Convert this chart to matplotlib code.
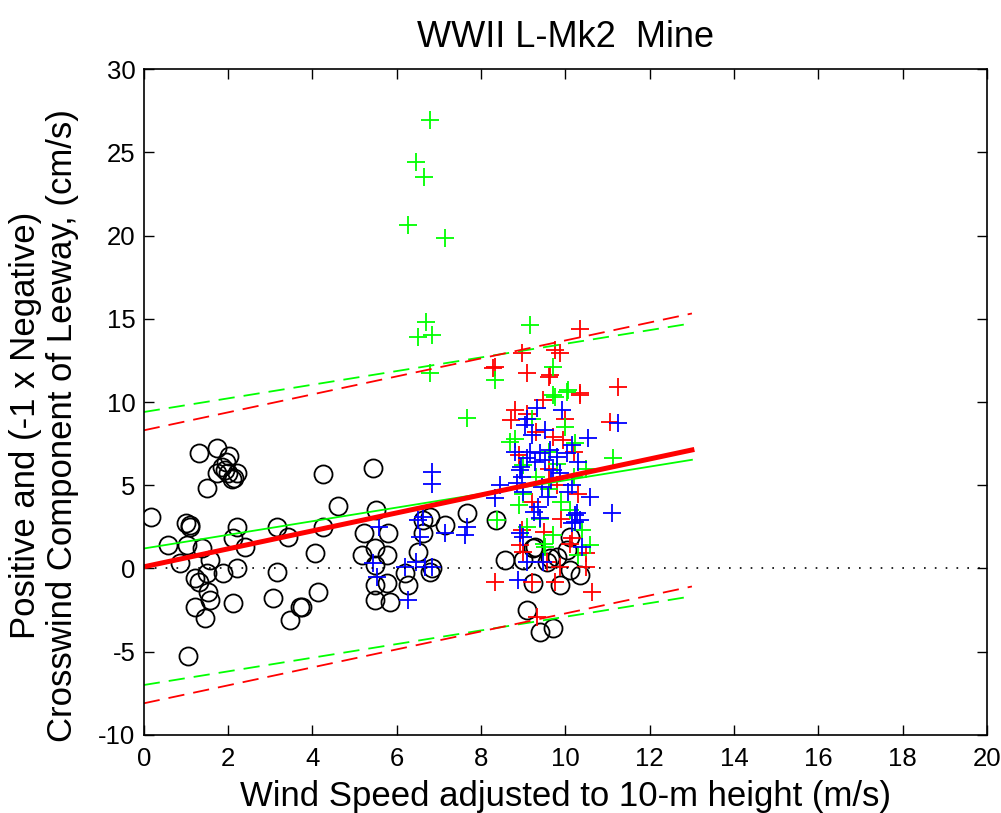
import numpy as np
import matplotlib.pyplot as plt

# wind speed (m/s) and crosswind leeway (cm/s) for each run
circ_x = [1.32, 1.73, 2.03, 1.85, 2.01, 2.20, 1.73, 2.09, 1.49, 1.93,
          0.17, 1.00, 1.10, 0.58, 1.02, 1.38, 1.57, 0.86, 2.21, 2.12,
          2.40, 1.89, 2.21, 1.49, 1.22, 1.30, 1.53, 1.57, 1.22, 1.45,
          2.12, 1.04, 3.15, 3.43, 3.15, 3.07, 3.47, 3.71, 4.24, 5.44,
          4.61, 4.24, 4.05, 4.14, 3.75, 5.51, 5.22, 5.80, 5.17, 5.49,
          5.76, 5.49, 5.49, 5.76, 5.49, 5.84, 6.20, 6.27, 6.51, 6.63,
          6.79, 6.63, 6.83, 6.79, 7.66, 8.35, 8.57, 9.00, 9.28, 9.24,
          9.08, 9.40, 9.71, 9.63, 7.14, 9.56, 9.87, 10.11, 10.34, 9.24,
          10.11, 10.03, 9.79, 1.95, 2.15, 1.10]
circ_y = [6.92, 7.22, 6.76, 6.11, 5.72, 5.76, 5.72, 5.36, 4.82, 5.92,
          3.07, 2.75, 2.51, 1.41, 1.41, 1.21, 0.51, 0.31, 2.51, 1.81,
          1.31, -0.25, 0.01, -0.29, -0.59, -0.79, -1.39, -1.89, -2.29, -2.99,
          -2.09, -5.26, 2.51, 1.91, -0.19, -1.79, -3.09, -2.29, 5.66, 6.02,
          3.75, 2.51, 0.95, -1.39, -2.29, 3.51, 2.11, 2.11, 0.81, 1.21,
          0.81, 0.21, -0.99, -0.89, -1.89, -1.99, -0.29, -0.99, 1.01, 2.11,
          3.07, 2.91, 0.01, -0.19, 3.31, 2.91, 0.51, 0.51, 1.31, -0.89,
          -2.49, -3.79, -3.59, 0.61, 2.61, 0.41, -0.99, -0.09, -0.39, 1.21,
          1.91, 1.11, 0.71, 6.40, 5.45, 2.60]

blue_x = [6.83, 6.83, 5.59, 6.51, 6.63, 6.55, 7.14, 5.44, 5.54, 6.20,
          6.46, 6.67, 6.83, 6.27, 7.66, 7.62, 9.32, 9.91, 11.25, 9.04,
          9.52, 10.54, 10.15, 8.80, 9.16, 9.40, 9.63, 9.08, 9.28, 9.52,
          9.79, 8.92, 8.96, 8.84, 9.67, 10.58, 10.15, 8.33, 8.45, 9.36,
          9.59, 10.27, 10.23, 11.10, 9.87, 10.03, 10.23, 10.15, 10.34, 9.00,
          9.40, 9.48, 9.08, 8.88, 10.39, 8.92, 9.20, 9.10, 9.00, 9.70,
          10.30, 9.45, 8.95, 9.25, 10.05]
blue_y = [5.80, 5.05, 2.51, 2.91, 3.11, 1.91, 2.11, 0.31, -0.49, 0.11,
          0.41, 0.11, 0.11, -1.89, 2.51, 2.01, 9.62, 9.52, 8.72, 8.62,
          8.32, 7.82, 7.42, 7.02, 7.02, 6.92, 7.12, 6.62, 6.42, 6.52,
          6.72, 5.92, 5.51, 5.12, 5.32, 4.31, 5.02, 4.22, 5.02, 3.71,
          4.31, 3.31, 2.81, 3.31, 5.72, 6.92, 3.21, 2.71, 2.91, 1.91,
          3.01, 0.41, 0.41, -0.69, 1.31, 2.11, 8.00, 9.00, 4.60, 5.90,
          6.40, 4.90, 6.10, 3.40, 4.60]

red_x = [8.29, 9.08, 8.96, 9.63, 9.75, 8.80, 9.48, 8.33, 8.92, 10.35,
         9.87, 9.60, 10.35, 11.25, 11.06, 10.34, 9.95, 8.33, 10.62, 9.75,
         9.20, 10.50, 10.50, 8.96, 10.15, 9.32, 9.56, 9.87, 9.10, 9.30,
         9.60, 9.80, 9.20, 9.90, 10.00, 8.90, 10.30, 9.50, 10.10, 9.00,
         8.70, 9.70, 10.20]
red_y = [12.02, 11.72, 12.92, 11.62, 13.12, 9.52, 10.12, 12.12, 1.41, 14.37,
         12.92, 11.52, 10.52, 10.92, 8.82, 10.42, 7.72, -0.79, -1.39, -0.79,
         -0.79, 0.11, 0.91, 2.31, 1.81, -2.89, 0.41, 0.11, 9.30, 8.20,
         6.00, 5.00, 4.00, 3.00, 9.00, 6.80, 4.50, 2.20, 1.50, 1.00,
         8.90, 7.90, 7.00]

green_x = [6.79, 6.45, 6.65, 6.27, 7.14, 6.69, 6.51, 6.83, 9.15, 6.79,
           8.33, 9.70, 10.07, 9.71, 7.66, 9.75, 10.03, 11.14, 10.58, 8.37,
           9.52, 8.69, 10.23, 8.80, 9.00, 9.30, 9.60, 9.90, 10.10, 9.40,
           9.10, 10.40, 9.70, 10.20, 9.00, 8.90, 10.50, 9.60, 10.00, 9.20,
           9.50, 10.30, 9.80]
green_y = [26.94, 24.43, 23.53, 20.63, 19.83, 14.82, 13.92, 14.02, 14.63, 11.72,
           11.32, 12.12, 10.72, 10.42, 9.02, 10.32, 10.62, 6.62, 1.41, 2.91,
           1.31, 7.62, 7.52, 7.80, 6.20, 5.50, 4.80, 4.00, 3.50, 3.00,
           2.50, 2.30, 2.00, 5.50, 4.50, 3.80, 6.00, 7.00, 8.50, 9.00,
           1.50, 0.80, 6.30]

# linear fits: intercept, slope and half-width of the 95% band
fit_red = (0.10, 0.54, 8.2)
fit_green = (1.20, 0.41, 8.2)
fit_xmax = 13.0

plt.rcParams['font.family'] = ['Liberation Sans', 'DejaVu Sans']
plt.rcParams['axes.unicode_minus'] = False

fig = plt.figure(figsize=(10.01, 8.13), dpi=100)
ax = fig.add_axes([0.1436, 0.096, 0.8425, 0.819])

ax.plot(circ_x, circ_y, 'o', mfc='none', mec='black', ms=13, mew=1.3)
ax.plot(red_x, red_y, '+', color='#ff0000', ms=13, mew=1.3)
ax.plot(green_x, green_y, '+', color='#00ff00', ms=13, mew=1.3)
ax.plot(blue_x, blue_y, '+', color='#0000ff', ms=13, mew=1.3)

ax.plot([0, 20], [0, 0], color='black', lw=1.2, ls=(0, (1, 5.5)))

xf = np.linspace(0, fit_xmax, 50)
for (a, b, w), col in [(fit_green, '#00ff00'), (fit_red, '#ff0000')]:
    yf = a + b * xf
    ax.plot(xf, yf + w, color=col, lw=1.3, dashes=(9, 5))
    ax.plot(xf, yf - w, color=col, lw=1.3, dashes=(9, 5))
ax.plot(xf, fit_green[0] + fit_green[1] * xf, color='#00ff00', lw=1.3)
ax.plot(xf, fit_red[0] + fit_red[1] * xf, color='#ff0000', lw=3.6)

ax.set_xlim(0, 20)
ax.set_ylim(-10, 30)
ax.set_xticks(np.arange(0, 21, 2))
ax.set_yticks(np.arange(-10, 31, 5))
ax.tick_params(direction='in', length=7, width=1, top=True, right=True,
               labelsize=18.5, pad=6)
ax.tick_params(axis='x', pad=9)
for s in ax.spines.values():
    s.set_linewidth(1.2)

ax.set_title('WWII L-Mk2  Mine', fontsize=26, pad=16)
ax.set_xlabel('Wind Speed adjusted to 10-m height (m/s)', fontsize=25, labelpad=6)
ax.set_ylabel('Positive and (-1 x Negative)\nCrosswind Component of Leeway, (cm/s)',
              fontsize=25, linespacing=1.15)
ax.yaxis.set_label_coords(-0.077, 0.465)

fig.savefig('out.png', dpi=100)
